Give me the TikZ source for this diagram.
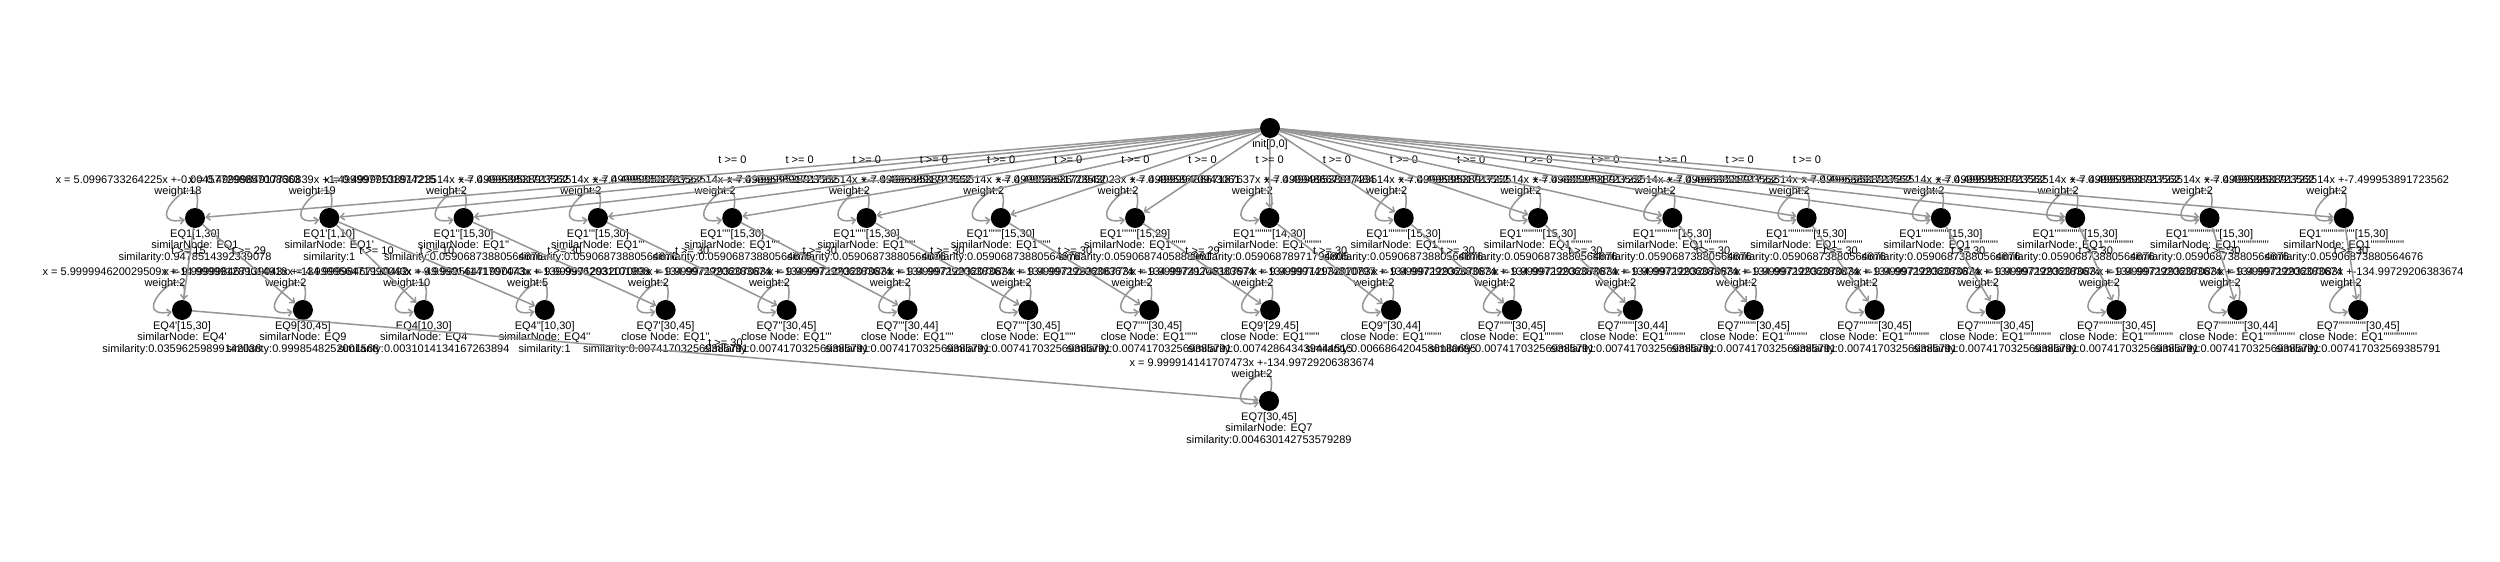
\documentclass[tikz,border=0pt]{standalone}
\usepackage{fontspec}
\setmainfont{Liberation Sans}[Ligatures=TeXOff]
\usetikzlibrary{arrows.meta}
\definecolor{edgegray}{RGB}{150,150,150}
\tikzset{
 dot/.style={circle,fill=black,draw=none,inner sep=0pt,minimum size=20pt},
 edge/.style={draw=edgegray,line width=1.5pt,-{Straight Barb[length=4pt,width=7pt]}},
 lbl/.style={font=\fontsize{11}{11.5}\selectfont,align=center,inner sep=0pt,text=black},
 elab/.style={font=\fontsize{11}{11.5}\selectfont,inner sep=0pt,yshift=13pt,text=black},
}
\newcommand\gnode[5]{%
  \node[dot] (#1) at (#2,-#3) {};
  \draw[edge] (#1) to[out=80,in=190,min distance=50pt] (#1);
  \node[lbl,anchor=south] (#1-l) at (#2-17,-#3+20.7) {#4};
  \node[lbl,anchor=north] (#1-b) at (#2,-#3-11) {#5};
}
\begin{document}
\begin{tikzpicture}[x=1pt,y=1pt]
\useasboundingbox[fill=white] (0,0) rectangle (2500,-562);
% root
\node[dot] (root) at (1270,-128) {};
\node[lbl,anchor=north] (root-b) at (1270,-139) {init[0,0]};
% row 1
\gnode{r0}{195}{218}{x = 5.0996733264225x +-0.004577298857008663\\weight:18}{EQ1[1,30]\\similarNode: EQ1\\similarity:0.9478514392339078}
\gnode{r1}{329.3}{218}{x = 0.4999984917730839x +1.4999977101874215\\weight:19}{EQ1'[1,10]\\similarNode: EQ1'\\similarity:1}
\gnode{r2}{463.6}{218}{x = 0.4999953891723514x +-7.499953891723562\\weight:2}{EQ1''[15,30]\\similarNode: EQ1''\\similarity:0.05906873880564676}
\gnode{r3}{597.9}{218}{x = 0.4999953891723514x +-7.499953891723562\\weight:2}{EQ1'''[15,30]\\similarNode: EQ1'''\\similarity:0.05906873880564676}
\gnode{r4}{732.2}{218}{x = 0.4999953891723514x +-7.499953891723562\\weight:2}{EQ1''''[15,30]\\similarNode: EQ1''''\\similarity:0.05906873880564676}
\gnode{r5}{866.5}{218}{x = 0.4999953891723514x +-7.499953891723562\\weight:2}{EQ1'''''[15,30]\\similarNode: EQ1'''''\\similarity:0.05906873880564676}
\gnode{r6}{1000.8}{218}{x = 0.4999953891723514x +-7.499953891723562\\weight:2}{EQ1''''''[15,30]\\similarNode: EQ1''''''\\similarity:0.05906873880564676}
\gnode{r7}{1135.1}{218}{x = 0.4999953670943023x +-7.499953670943061\\weight:2}{EQ1'''''''[15,29]\\similarNode: EQ1'''''''\\similarity:0.0590687405888961}
\gnode{r8}{1269.4}{218}{x = 0.4999948667187637x +-7.499948667187484\\weight:2}{EQ1''''''''[14,30]\\similarNode: EQ1''''''''\\similarity:0.05906878971794805}
\gnode{r9}{1403.7}{218}{x = 0.4999953891723514x +-7.499953891723562\\weight:2}{EQ1'''''''''[15,30]\\similarNode: EQ1'''''''''\\similarity:0.05906873880564676}
\gnode{r10}{1538}{218}{x = 0.4999953891723514x +-7.499953891723562\\weight:2}{EQ1''''''''''[15,30]\\similarNode: EQ1''''''''''\\similarity:0.05906873880564676}
\gnode{r11}{1672.3}{218}{x = 0.4999953891723514x +-7.499953891723562\\weight:2}{EQ1'''''''''''[15,30]\\similarNode: EQ1'''''''''''\\similarity:0.05906873880564676}
\gnode{r12}{1806.6}{218}{x = 0.4999953891723514x +-7.499953891723562\\weight:2}{EQ1''''''''''''[15,30]\\similarNode: EQ1''''''''''''\\similarity:0.05906873880564676}
\gnode{r13}{1940.9}{218}{x = 0.4999953891723514x +-7.499953891723562\\weight:2}{EQ1'''''''''''''[15,30]\\similarNode: EQ1'''''''''''''\\similarity:0.05906873880564676}
\gnode{r14}{2075.2}{218}{x = 0.4999953891723514x +-7.499953891723562\\weight:2}{EQ1''''''''''''''[15,30]\\similarNode: EQ1''''''''''''''\\similarity:0.05906873880564676}
\gnode{r15}{2209.5}{218}{x = 0.4999953891723514x +-7.499953891723562\\weight:2}{EQ1'''''''''''''''[15,30]\\similarNode: EQ1'''''''''''''''\\similarity:0.05906873880564676}
\gnode{r16}{2343.8}{218}{x = 0.4999953891723514x +-7.499953891723562\\weight:2}{EQ1''''''''''''''''[15,30]\\similarNode: EQ1''''''''''''''''\\similarity:0.05906873880564676}
% row 2
\gnode{s0}{182}{310}{x = 5.999994620029509x +-14.999991289014918\\weight:2}{EQ4'[15,30]\\similarNode: EQ4'\\similarity:0.03596259899142038}
\gnode{s1}{302.9}{310}{x = 9.999998467139043x +-134.99998467130492\\weight:2}{EQ9[30,45]\\similarNode: EQ9\\similarity:0.9998548252001568}
\gnode{s2}{423.8}{310}{x = 4.999956471990043x +-49.99956471990043\\weight:10}{EQ4[10,30]\\similarNode: EQ4\\similarity:0.0031014134167263894}
\gnode{s3}{544.7}{310}{x = 9.999914141707473x +-139.99962031101998\\weight:5}{EQ4''[10,30]\\similarNode: EQ4''\\similarity:1}
\gnode{s4}{665.6}{310}{x = 9.999971293207083x +-134.99729206383674\\weight:2}{EQ7'[30,45]\\close Node: EQ1''\\similarity:0.007417032569385791}
\gnode{s5}{786.5}{310}{x = 9.999971293207083x +-134.99729206383674\\weight:2}{EQ7''[30,45]\\close Node: EQ1'''\\similarity:0.007417032569385791}
\gnode{s6}{907.4}{310}{x = 9.999971293207083x +-134.99729206383674\\weight:2}{EQ7'''[30,44]\\close Node: EQ1''''\\similarity:0.007417032569385791}
\gnode{s7}{1028.3}{310}{x = 9.999971293207083x +-134.99729206383674\\weight:2}{EQ7''''[30,45]\\close Node: EQ1'''''\\similarity:0.007417032569385791}
\gnode{s8}{1149.2}{310}{x = 9.999971293206773x +-134.99729206383674\\weight:2}{EQ7'''''[30,45]\\close Node: EQ1''''''\\similarity:0.007417032569385791}
\gnode{s9}{1270.1}{310}{x = 9.999974174810797x +-134.99974174810797\\weight:2}{EQ9'[29,45]\\close Node: EQ1'''''''\\similarity:0.007428643439444515}
\gnode{s10}{1391}{310}{x = 9.999971293207083x +-134.99729206383674\\weight:2}{EQ9''[30,44]\\close Node: EQ1''''''''\\similarity:0.0066864204586180695}
\gnode{s11}{1511.9}{310}{x = 9.999971293207083x +-134.99729206383674\\weight:2}{EQ7''''''[30,45]\\close Node: EQ1'''''''''\\similarity:0.007417032569385791}
\gnode{s12}{1632.8}{310}{x = 9.999971293207083x +-134.99729206383674\\weight:2}{EQ7'''''''[30,44]\\close Node: EQ1''''''''''\\similarity:0.007417032569385791}
\gnode{s13}{1753.7}{310}{x = 9.999971293207083x +-134.99729206383674\\weight:2}{EQ7''''''''[30,45]\\close Node: EQ1'''''''''''\\similarity:0.007417032569385791}
\gnode{s14}{1874.6}{310}{x = 9.999971293207083x +-134.99729206383674\\weight:2}{EQ7'''''''''[30,45]\\close Node: EQ1''''''''''''\\similarity:0.007417032569385791}
\gnode{s15}{1995.5}{310}{x = 9.999971293207083x +-134.99729206383674\\weight:2}{EQ7''''''''''[30,45]\\close Node: EQ1'''''''''''''\\similarity:0.007417032569385791}
\gnode{s16}{2116.4}{310}{x = 9.999971293207083x +-134.99729206383674\\weight:2}{EQ7'''''''''''[30,45]\\close Node: EQ1''''''''''''''\\similarity:0.007417032569385791}
\gnode{s17}{2237.3}{310}{x = 9.999971293207083x +-134.99729206383674\\weight:2}{EQ7''''''''''''[30,44]\\close Node: EQ1'''''''''''''''\\similarity:0.007417032569385791}
\gnode{s18}{2358.2}{310}{x = 9.999971293207083x +-134.99729206383674\\weight:2}{EQ7'''''''''''''[30,45]\\close Node: EQ1''''''''''''''''\\similarity:0.007417032569385791}
% row 3
\gnode{t0}{1269}{401}{x = 9.999914141707473x +-134.99729206383674\\weight:2}{EQ7[30,45]\\similarNode: EQ7\\similarity:0.004630142753579289}
% edges from root
\foreach \k in {0,...,16}{
  \draw[edge] (root) -- node[elab,midway]{t >= 0} (r\k);
}
% row 1 -> row 2
\draw[edge] (r0) -- node[elab,midway]{t >= 15} (s0);
\draw[edge] (r0) -- node[elab,midway]{t >= 29} (s1);
\draw[edge] (r1) -- node[elab,midway]{t >= 10} (s2);
\draw[edge] (r1) -- node[elab,midway]{t >= 10} (s3);
\foreach \k/\j in {2/4,3/5,4/6,5/7,6/8,8/10,9/11,10/12,11/13,12/14,13/15,14/16,15/17,16/18}{
  \draw[edge] (r\k) -- node[elab,midway]{t >= 30} (s\j);
}
\draw[edge] (r7) -- node[elab,midway]{t >= 29} (s9);
% row 2 -> row 3
\draw[edge] (s0) -- node[elab,midway]{t >= 30} (t0);
\end{tikzpicture}
\end{document}
